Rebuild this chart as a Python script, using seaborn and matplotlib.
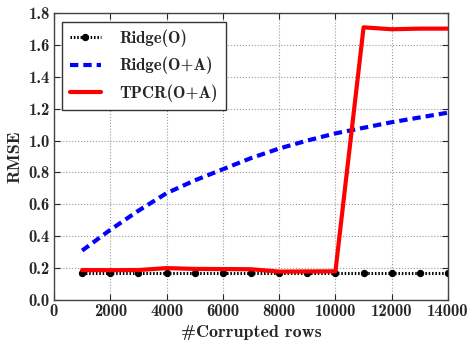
import matplotlib
matplotlib.use("Agg")
import matplotlib.pyplot as plt
import seaborn as sns
import pandas as pd

rows = [1000, 2000, 3000, 4000, 5000, 6000, 7000, 8000, 9000, 10000, 11000, 12000, 13000, 14000]
ridge_o = [0.17, 0.17, 0.17, 0.17, 0.17, 0.17, 0.17, 0.17, 0.17, 0.17, 0.17, 0.17, 0.17, 0.17]
ridge_oa = [0.31, 0.44, 0.56, 0.67, 0.75, 0.82, 0.89, 0.95, 1.00, 1.045, 1.08, 1.115, 1.145, 1.175]
tpcr_oa = [0.188, 0.187, 0.188, 0.20, 0.195, 0.194, 0.193, 0.178, 0.179, 0.18, 1.71, 1.698, 1.702, 1.702]
labels = ["Ridge(O)", "Ridge(O+A)", "TPCR(O+A)"]

sns.set_style("ticks")
plt.rcParams['font.family'] = ['cmb10', 'DejaVu Serif']
plt.rcParams['axes.unicode_minus'] = False
plt.rcParams['axes.formatter.use_mathtext'] = False

fig = plt.figure(figsize=(4.7, 3.45), dpi=100)
ax = fig.add_axes([54/470, 1 - 300/345, 394/470, 287/345])

df = pd.DataFrame({"x": rows, "a": ridge_o, "b": ridge_oa, "c": tpcr_oa})
sns.lineplot(data=df, x="x", y="a", ax=ax, color="black", linewidth=2.2,
             marker="o", markersize=4.5, markeredgecolor="black", label=labels[0])
ax.lines[-1].set_linestyle((0, (0.5, 0.6)))
sns.lineplot(data=df, x="x", y="b", ax=ax, color="blue", linewidth=3,
             label=labels[1])
ax.lines[-1].set_linestyle((0, (2, 1.2)))
sns.lineplot(data=df, x="x", y="c", ax=ax, color="red", linestyle="-", linewidth=3,
             label=labels[2])

ax.set_xlim(0, 14000)
ax.set_ylim(0, 1.8)
ax.set_xticks(range(0, 14001, 2000))
ax.set_yticks([0.0, 0.2, 0.4, 0.6, 0.8, 1.0, 1.2, 1.4, 1.6, 1.8])
ax.set_yticklabels([f"{v:.1f}" for v in [0.0, 0.2, 0.4, 0.6, 0.8, 1.0, 1.2, 1.4, 1.6, 1.8]])
ax.set_xticklabels([str(v) for v in range(0, 14001, 2000)])
ax.grid(True, color="#999999", linestyle=":", linewidth=0.8)
ax.tick_params(direction="in", top=True, right=True, labelsize=12, length=4, width=0.8, pad=3)
for s in ax.spines.values():
    s.set_color("#444444")
    s.set_linewidth(1.0)
ax.set_xlabel("#Corrupted rows", fontsize=13)
ax.set_ylabel("RMSE", fontsize=13)

leg = ax.legend(loc="upper left", fontsize=12, frameon=True, fancybox=False,
                handlelength=1.9, handletextpad=1.1, borderpad=0.45, labelspacing=0.6,
                borderaxespad=0, bbox_to_anchor=(8/394, 1 - 9/287))
leg.get_frame().set_edgecolor("#333333")
leg.get_frame().set_linewidth(1.0)
leg.get_frame().set_alpha(1)

fig.savefig("out.png", dpi=100)
